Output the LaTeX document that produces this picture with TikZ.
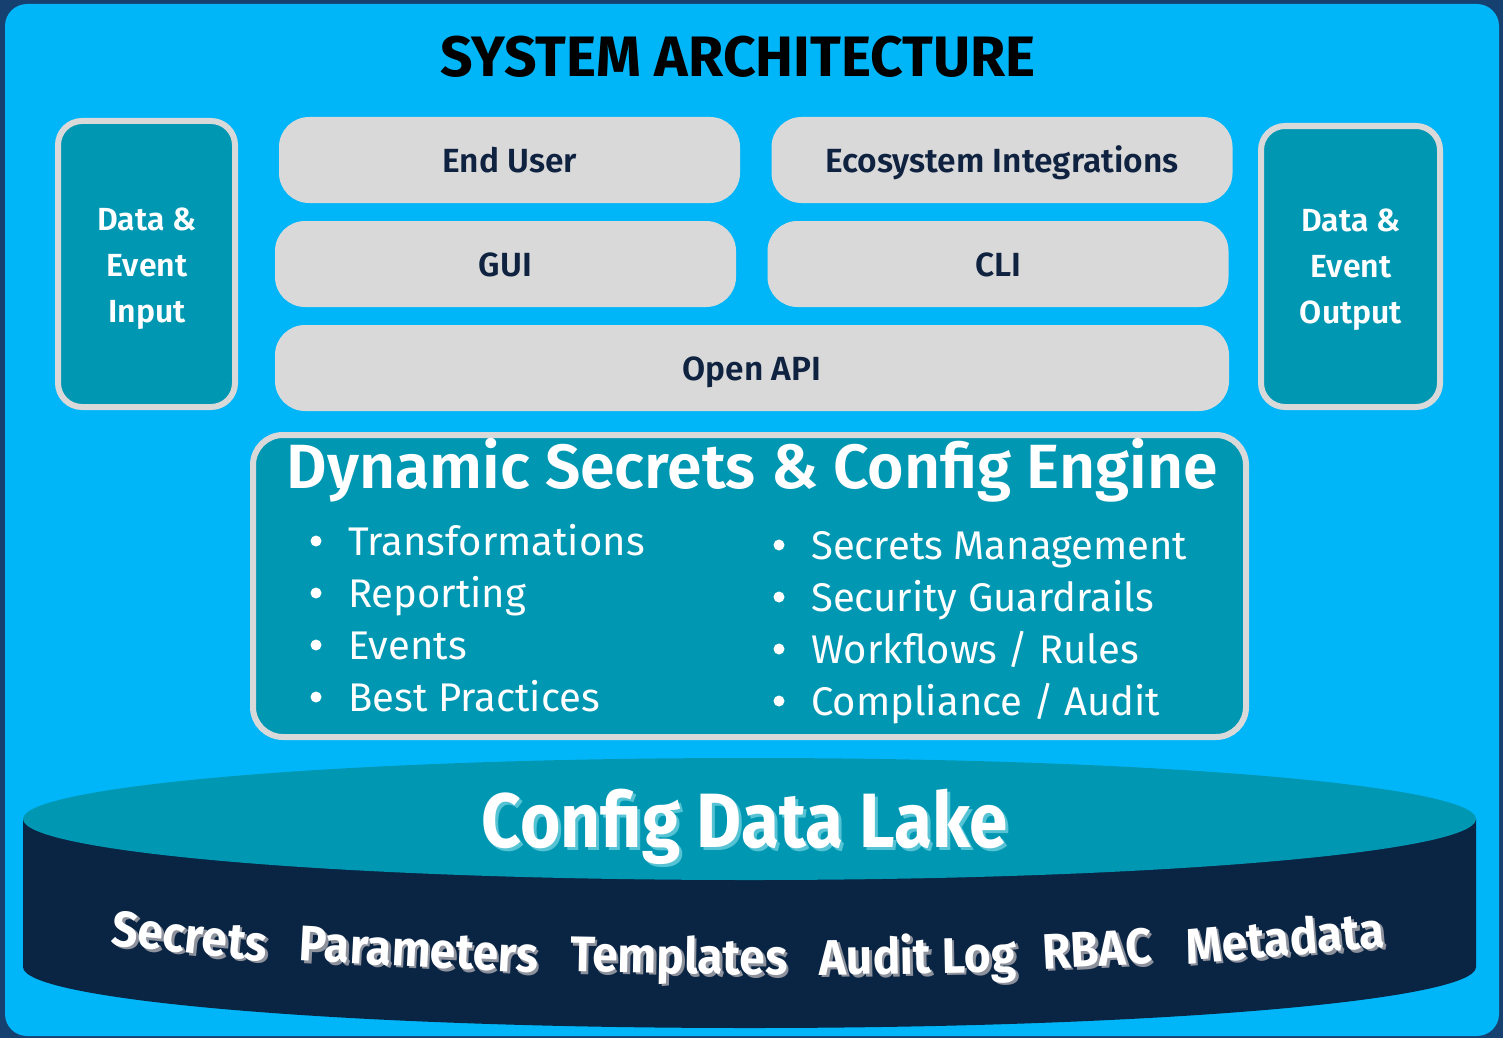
\documentclass[tikz,border=0pt]{standalone}
\usepackage{fontspec}
\setmainfont{Fira Sans}
\newfontfamily\semib{Fira Sans}[UprightFont=* SemiBold]
\usetikzlibrary{positioning}

\definecolor{bordo}{HTML}{15406F}
\definecolor{sfondo}{HTML}{00B6F8}
\definecolor{petrolio}{HTML}{0097B2}
\definecolor{grigio}{HTML}{D9D9D9}
\definecolor{testo}{HTML}{0F2341}
\definecolor{notte}{HTML}{0A2444}
\definecolor{ombraacqua}{HTML}{55C3D4}
\definecolor{ombragrigia}{HTML}{8C919B}

\begin{document}
\begin{tikzpicture}[x=1pt,y=-1pt,
    grigiobox/.style={fill=grigio, rounded corners=30pt, minimum width=461pt,
      minimum height=86pt, inner sep=0pt, text=testo,
      text height=30pt, text depth=5pt,
      font=\semib\fontsize{33.5}{36}\selectfont},
    laterale/.style={fill=petrolio, draw=grigio, line width=6pt,
      rounded corners=24pt, inner sep=0pt, text=white, align=center,
      font=\semib\fontsize{32}{46}\selectfont},
    voce/.style={anchor=base west, inner sep=0pt, text=white,
      font=\fontsize{40}{48}\selectfont},
    punto/.style={circle, fill=white, inner sep=0pt, minimum size=11pt},
    parola/.style={inner sep=0pt, font=\bfseries\fontsize{50}{56}\selectfont}]
  \newlength{\lagoRx}
  \newlength{\lagoRy}
  \setlength{\lagoRx}{726.5pt}
  \setlength{\lagoRy}{61pt}

  \useasboundingbox (0,0) rectangle (1503,1038);
  % cornice e sfondo
  \fill[bordo] (0,0) rectangle (1503,1038);
  \fill[sfondo, rounded corners=22pt] (5,4) rectangle (1499,1036);

  % titolo
  \node[font=\bfseries\fontsize{57}{64}\selectfont, inner sep=0pt, anchor=base]
    (Titolo) at (738,77) {SYSTEM ARCHITECTURE};

  % ingresso e uscita
  \node[laterale, minimum width=177pt, minimum height=286pt]
    (Ingresso) at (146.5,264) {};
  \node[laterale, minimum width=179pt, minimum height=281pt]
    (Uscita) at (1350.5,266.5) {};
  \node[laterale, draw=none, fill=none] (TestoIngresso) at (147,269)
    {Data \&\\Event\\Input};
  \node[laterale, draw=none, fill=none] (TestoUscita) at (1351,270)
    {Data \&\\Event\\Output};

  % livelli di accesso
  \node[grigiobox] (Utente) at (509.5,160) {End User};
  \node[grigiobox] (Ecosistema) at (1002,160) {Ecosystem Integrations};
  \node[grigiobox] (GUI) at (505.5,264) {GUI};
  \node[grigiobox] (CLI) at (998,264) {CLI};
  \node[grigiobox, minimum width=954pt] (API) at (752,368) {Open API};

  % motore
  \node[fill=petrolio, draw=grigio, line width=6pt, rounded corners=30pt,
    minimum width=993pt, minimum height=302pt] (Motore) at (749.5,586) {};
  \node[text=white, inner sep=0pt, anchor=base,
    font=\semib\fontsize{62.5}{68}\selectfont]
    (TitoloMotore) at (752,488) {Dynamic Secrets \& Config Engine};
  \foreach \v [count=\i] in {Transformations, Reporting, Events, Best Practices} {
    \node[punto] (PuntoS\i) at (316,489+52*\i) {};
    \node[voce] (VoceS\i) at (348,503+52*\i) {\v};
  }
  \foreach \v [count=\i] in {Secrets Management, Security Guardrails,
      Workflows / Rules, Compliance / Audit} {
    \node[punto] (PuntoD\i) at (779,493+52*\i) {};
    \node[voce] (VoceD\i) at (811,507+52*\i) {\v};
  }

  % cilindro
  \fill[notte] (749.5-\lagoRx,819) -- (749.5-\lagoRx,967)
    arc[start angle=180, end angle=360, x radius=\lagoRx, y radius=\lagoRy]
    -- (749.5+\lagoRx,819) -- cycle;
  \fill[petrolio] (749.5,819) ellipse[x radius=\lagoRx, y radius=\lagoRy];

  % testi del lago
  \node[parola, text=ombraacqua, xscale=0.9, anchor=base,
    font=\bfseries\fontsize{77}{84}\selectfont]
    (OmbraLago) at (748,850) {Config Data Lake};
  \node[parola, text=white, xscale=0.9, anchor=base,
    font=\bfseries\fontsize{77}{84}\selectfont]
    (Lago) at (745,847) {Config Data Lake};
  \foreach \w/\px/\py/\ang [count=\i] in {Secrets/190/936/-6, Parameters/419/950/-3,
      Templates/679/960/-1, Audit Log/918/959/1, RBAC/1097/949/3, Metadata/1285/937/5} {
    \node[parola, text=ombragrigia, rotate=\ang, xscale=0.92]
      (Ombra\i) at (\px+2.5,\py+2.5) {\w};
    \node[parola, text=white, rotate=\ang, xscale=0.92] (Parola\i) at (\px,\py) {\w};
  }
\end{tikzpicture}
\end{document}
